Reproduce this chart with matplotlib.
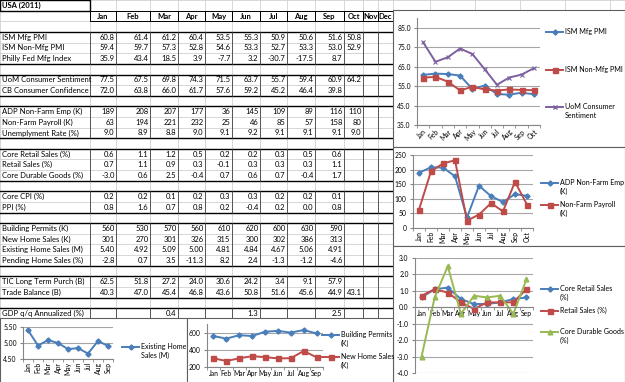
import numpy as np
import matplotlib
matplotlib.use('Agg')
import matplotlib.pyplot as plt
from matplotlib.patches import Rectangle

plt.rcParams['font.family'] = ['Lato', 'DejaVu Sans']

# ---- data (USA 2011) ----
months = ['Jan', 'Feb', 'Mar', 'Apr', 'May', 'Jun', 'Jul', 'Aug', 'Sep', 'Oct', 'Nov', 'Dec']

ism_mfg = [60.8, 61.4, 61.2, 60.4, 53.5, 55.3, 50.9, 50.6, 51.6, 50.8]
ism_non_mfg = [59.4, 59.7, 57.3, 52.8, 54.6, 53.3, 52.7, 53.3, 53.0, 52.9]
philly_fed = [35.9, 43.4, 18.5, 3.9, -7.7, 3.2, -30.7, -17.5, 8.7]
uom_sentiment = [77.5, 67.5, 69.8, 74.3, 71.5, 63.7, 55.7, 59.4, 60.9, 64.2]
cb_confidence = [72.0, 63.8, 66.0, 61.7, 57.6, 59.2, 45.2, 46.4, 39.8]
adp_emp = [189, 208, 207, 177, 36, 145, 109, 89, 116, 110]
nonfarm_payroll = [63, 194, 221, 232, 25, 46, 85, 57, 158, 80]
unemployment = [9.0, 8.9, 8.8, 9.0, 9.1, 9.2, 9.1, 9.1, 9.1, 9.0]
core_retail = [0.6, 1.1, 1.2, 0.5, 0.2, 0.2, 0.3, 0.5, 0.6]
retail_sales = [0.7, 1.1, 0.9, 0.3, -0.1, 0.3, 0.3, 0.3, 1.1]
core_durable = [-3.0, 0.6, 2.5, -0.4, 0.7, 0.6, 0.7, -0.4, 1.7]
core_cpi = [0.2, 0.2, 0.1, 0.2, 0.3, 0.3, 0.2, 0.2, 0.1]
ppi = [0.8, 1.6, 0.7, 0.8, 0.2, -0.4, 0.2, 0.0, 0.8]
building_permits = [560, 530, 570, 560, 610, 620, 600, 630, 590]
new_home_sales = [301, 270, 301, 326, 315, 300, 302, 386, 313]
existing_home_sales = [5.40, 4.92, 5.09, 5.00, 4.81, 4.84, 4.67, 5.06, 4.91]
pending_home_sales = [-2.8, 0.7, 3.5, -11.3, 8.2, 2.4, -1.3, -1.2, -4.6]
tic_purchases = [62.5, 51.8, 27.2, 24.0, 30.6, 24.2, 3.4, 9.1, 57.9]
trade_balance = [40.3, 47.0, 45.4, 46.8, 43.6, 50.8, 51.6, 45.6, 44.9, 43.1]
gdp_qq = [None, None, 0.4, None, None, 1.3, None, None, 2.5]

# table rows: (row index, label, values, format)
table_rows = [
    (3, 'ISM Mfg PMI', ism_mfg, '{:.1f}'),
    (4, 'ISM Non-Mfg PMI', ism_non_mfg, '{:.1f}'),
    (5, 'Philly Fed Mfg Index', philly_fed, '{:.1f}'),
    (7, 'UoM Consumer Sentiment', uom_sentiment, '{:.1f}'),
    (8, 'CB Consumer Confidence', cb_confidence, '{:.1f}'),
    (10, 'ADP Non-Farm Emp (K)', adp_emp, '{:d}'),
    (11, 'Non-Farm Payroll (K)', nonfarm_payroll, '{:d}'),
    (12, 'Unemplyment Rate (%)', unemployment, '{:.1f}'),
    (14, 'Core Retail Sales (%)', core_retail, '{:.1f}'),
    (15, 'Retail Sales (%)', retail_sales, '{:.1f}'),
    (16, 'Core Durable Goods (%)', core_durable, '{:.1f}'),
    (18, 'Core CPI (%)', core_cpi, '{:.1f}'),
    (19, 'PPI (%)', ppi, '{:.1f}'),
    (21, 'Building Permits (K)', building_permits, '{:d}'),
    (22, 'New Home Sales (K)', new_home_sales, '{:d}'),
    (23, 'Existing Home Sales (M)', existing_home_sales, '{:.2f}'),
    (24, 'Pending Home Sales (%)', pending_home_sales, '{:.1f}'),
    (26, 'TIC Long Term Purch (B)', tic_purchases, '{:.1f}'),
    (27, 'Trade Balance (B)', trade_balance, '{:.1f}'),
    (29, 'GDP q/q Annualized (%)', gdp_qq, '{:.1f}'),
]
groups = [(3, 5), (7, 8), (10, 12), (14, 16), (18, 19), (21, 24), (26, 27), (29, 29)]

BLUE, RED, GREEN, PURPLE = '#4A7EBB', '#BE4B48', '#98B954', '#7D60A0'
GRID = '#a6a6a6'
FS = 5.5      # sheet text
CFS = 4.9     # chart tick labels
LFS = 5.1     # chart legends

W, H = 625, 382
fig = plt.figure(figsize=(W / 100, H / 100), dpi=100)
cv = fig.add_axes([0, 0, 1, 1])
cv.set_xlim(0, W)
cv.set_ylim(H, 0)
cv.axis('off')

col_edges = [0, 90, 116, 150, 178, 205, 232, 260, 287, 315, 344, 363, 378, 393]
row_h = 10.62
TAB_R = col_edges[-1]


def row_top(i):
    return 0.2 + i * row_h


# light sheet grid
for x in col_edges:
    cv.plot([x, x], [0, 318], color='#d0d0d0', lw=0.6, zorder=1)
for x in [430, 475, 520, 565, 610]:
    cv.plot([x, x], [0, 12], color='#d0d0d0', lw=0.6, zorder=1)
for i in range(31):
    cv.plot([0, W if i < 2 else TAB_R], [row_top(i)] * 2, color='#d0d0d0', lw=0.6, zorder=1)

# title cell
cv.add_patch(Rectangle((0, row_top(0)), col_edges[1], row_h, fill=False, ec='black', lw=1.0, zorder=3))
cv.text(2, row_top(0) + row_h / 2, 'USA (2011)', fontsize=FS, fontweight='bold', va='center', zorder=4)

# header row
for j, m in enumerate(months):
    x0, x1 = col_edges[j + 1], col_edges[j + 2]
    cv.add_patch(Rectangle((x0, row_top(1)), x1 - x0, row_h, fill=False, ec='black', lw=0.7, zorder=3))
    cv.text((x0 + x1) / 2, row_top(1) + row_h / 2, m, fontsize=FS, fontweight='bold',
            ha='center', va='center', zorder=4)

# group borders
for g0, g1 in groups:
    y0, y1 = row_top(g0), row_top(g1 + 1)
    cv.plot([0, TAB_R], [y0, y0], color='black', lw=1.0, zorder=3)
    cv.plot([0, TAB_R], [y1, y1], color='black', lw=1.0, zorder=3)
    for x in col_edges[1:]:
        cv.plot([x, x], [y0, y1], color='#404040', lw=0.6, zorder=3)

# cell text
for r, label, vals, fmt in table_rows:
    yc = row_top(r) + row_h / 2
    cv.text(2, yc, label, fontsize=FS, va='center', zorder=4)
    for j, v in enumerate(vals):
        if v is None:
            continue
        cv.text(col_edges[j + 2] - 1.5, yc, fmt.format(v), fontsize=FS,
                ha='right', va='center', zorder=4)


def chart(box, plot):
    bx0, by0, bx1, by1 = box
    cv.add_patch(Rectangle((bx0, by0), bx1 - bx0, by1 - by0, fc='white', ec='#606060', lw=0.8, zorder=5))
    px0, py0, px1, py1 = plot
    ax = fig.add_axes([px0 / W, 1 - py1 / H, (px1 - px0) / W, (py1 - py0) / H])
    ax.set_facecolor('none')
    for s in ['top', 'right']:
        ax.spines[s].set_visible(False)
    for s in ['left', 'bottom']:
        ax.spines[s].set_color('#868686')
        ax.spines[s].set_linewidth(0.8)
    return ax


def style(ax, labels, ylim, yticks, yfmt, rot=0):
    n = len(labels)
    ax.set_xlim(-0.5, n - 0.5)
    ax.set_xticks(range(n))
    ax.set_xticks(np.arange(-0.5, n, 1.0), minor=True)
    ax.tick_params(axis='x', which='major', length=0, labelsize=CFS, pad=2)
    ax.tick_params(axis='x', which='minor', length=2.5, color='#868686')
    if rot == 45:
        ax.set_xticklabels(labels, rotation=45, ha='right', rotation_mode='anchor')
    else:
        ax.set_xticklabels(labels, rotation=rot)
    ax.set_ylim(*ylim)
    ax.set_yticks(yticks)
    ax.set_yticklabels([yfmt.format(t) for t in yticks])
    ax.tick_params(axis='y', length=2.5, color='#868686', labelsize=CFS, pad=2)
    ax.grid(axis='y', color=GRID, lw=0.8)
    ax.set_axisbelow(True)


def legend_entry(x, y, text, color, marker, ms):
    cv.plot([x, x + 17], [y, y], color=color, lw=1.4, zorder=6)
    cv.plot([x + 8.5], [y], marker=marker, color=color, ms=ms, mew=1.0, zorder=6)
    cv.text(x + 19, y - 4.0, text, fontsize=LFS, va='top', linespacing=1.3, zorder=6)


# --- chart: ISM / UoM ---
ax1 = chart((393, 10, 625, 147), (417, 18, 540, 125))
m10 = months[:10]
x10 = range(10)
ax1.plot(x10, ism_mfg, color=BLUE, lw=1.4, marker='D', ms=2.6)
ax1.plot(x10, ism_non_mfg, color=RED, lw=1.4, marker='s', ms=3.6)
ax1.plot(x10, uom_sentiment, color=PURPLE, lw=1.4, marker='x', ms=3.5, mew=0.8)
style(ax1, m10, (35, 90), [35, 45, 55, 65, 75, 85], '{:.1f}', rot=45)
legend_entry(546, 32, 'ISM Mfg PMI', BLUE, 'D', 2.6)
legend_entry(546, 70, 'ISM Non-Mfg PMI', RED, 's', 3.6)
legend_entry(546, 107, 'UoM Consumer\nSentiment', PURPLE, 'x', 3.5)

# --- chart: ADP / NFP ---
ax2 = chart((393, 147, 625, 246), (413, 155, 533, 228))
ax2.plot(x10, adp_emp, color=BLUE, lw=1.4, marker='D', ms=2.6)
ax2.plot(x10, nonfarm_payroll, color=RED, lw=1.4, marker='s', ms=3.6)
style(ax2, m10, (0, 250), [0, 50, 100, 150, 200, 250], '{:d}', rot=90)
legend_entry(541, 183, 'ADP Non-Farm Emp\n(K)', BLUE, 'D', 2.6)
legend_entry(541, 205, 'Non-Farm Payroll\n(K)', RED, 's', 3.6)

# --- chart: retail / durable goods ---
ax3 = chart((393, 246, 625, 384), (415, 258, 533, 373))
x9 = range(9)
m9 = months[:9]
ax3.plot(x9, core_retail, color=BLUE, lw=1.4, marker='D', ms=2.6)
ax3.plot(x9, retail_sales, color=RED, lw=1.4, marker='s', ms=3.6)
ax3.plot(x9, core_durable, color=GREEN, lw=1.4, marker='^', ms=3.4)
style(ax3, m9, (-4, 3), [-4, -3, -2, -1, 0, 1, 2, 3], '{:.1f}')
ax3.spines['bottom'].set_position(('data', 0))
legend_entry(541, 289, 'Core Retail Sales\n(%)', BLUE, 'D', 2.6)
legend_entry(541, 311, 'Retail Sales (%)', RED, 's', 3.6)
legend_entry(541, 332, 'Core Durable Goods\n(%)', GREEN, '^', 3.4)

# --- chart: existing home sales ---
ax4 = chart((0, 318, 187, 384), (23, 327, 113, 359))
ax4.plot(x9, existing_home_sales, color=BLUE, lw=1.4, marker='D', ms=2.6)
style(ax4, m9, (4.5, 5.5), [4.5, 5.0, 5.5], '{:.2f}', rot=90)
legend_entry(122, 347, 'Existing Home\nSales (M)', BLUE, 'D', 2.6)

# --- chart: permits / new home sales ---
ax5 = chart((187, 318, 393, 384), (207, 324, 323, 367))
ax5.plot(x9, building_permits, color=BLUE, lw=1.4, marker='D', ms=2.6)
ax5.plot(x9, new_home_sales, color=RED, lw=1.4, marker='s', ms=3.6)
style(ax5, m9, (200, 700), [200, 400, 600], '{:d}')
legend_entry(322, 335, 'Building Permits\n(K)', BLUE, 'D', 2.6)
legend_entry(322, 357, 'New Home Sales\n(K)', RED, 's', 3.6)

fig.savefig('out.png', dpi=100)
